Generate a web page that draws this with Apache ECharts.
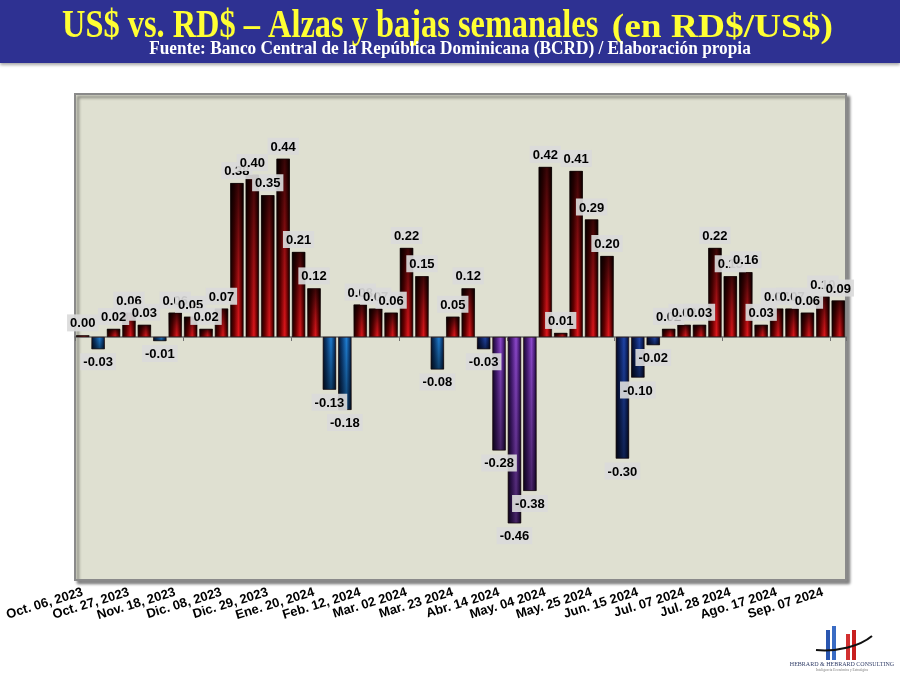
<!DOCTYPE html>
<html>
<head>
<meta charset="utf-8">
<title>US$ vs. RD$ – Alzas y bajas semanales</title>
<script src="https://cdn.jsdelivr.net/npm/echarts@6/dist/echarts.min.js"></script>
<style>
  html, body { margin: 0; padding: 0; background: #ffffff; }
  #chart { width: 900px; height: 675px; }
</style>
</head>
<body>
<div id="chart"></div>
<script>
// semanas (viernes) y variación semanal en RD$/US$
var weeks = [
  'Oct. 06, 2023', 'Oct. 13, 2023', 'Oct. 20, 2023', 'Oct. 27, 2023', 'Nov. 03, 2023',
  'Nov. 10, 2023', 'Nov. 18, 2023', 'Nov. 24, 2023', 'Dic. 01, 2023', 'Dic. 08, 2023',
  'Dic. 15, 2023', 'Dic. 22, 2023', 'Dic. 29, 2023', 'Ene. 05, 2024', 'Ene. 12, 2024',
  'Ene. 20, 2024', 'Ene. 27, 2024', 'Feb. 03, 2024', 'Feb. 12, 2024', 'Feb. 17, 2024',
  'Feb. 24, 2024', 'Mar. 02 2024', 'Mar. 09 2024', 'Mar. 16 2024', 'Mar. 23 2024',
  'Mar. 30 2024', 'Abr. 06 2024', 'Abr. 14 2024', 'Abr. 20 2024', 'Abr. 27 2024',
  'May. 04 2024', 'May. 11 2024', 'May. 18 2024', 'May. 25 2024', 'Jun. 01 2024',
  'Jun. 08 2024', 'Jun. 15 2024', 'Jun. 22 2024', 'Jun. 29 2024', 'Jul. 07 2024',
  'Jul. 14 2024', 'Jul. 21 2024', 'Jul. 28 2024', 'Ago. 03 2024', 'Ago. 10 2024',
  'Ago. 17 2024', 'Ago. 24 2024', 'Ago. 31 2024', 'Sep. 07 2024', 'Sep. 14 2024'
];

var changes = [
  0.004, -0.03, 0.02, 0.06, 0.03, -0.01, 0.06, 0.05, 0.02, 0.07,
  0.38, 0.40, 0.35, 0.44, 0.21, 0.12, -0.13, -0.18, 0.08, 0.07,
  0.06, 0.22, 0.15, -0.08, 0.05, 0.12, -0.03, -0.28, -0.46, -0.38,
  0.42, 0.01, 0.41, 0.29, 0.20, -0.30, -0.10, -0.02, 0.02, 0.03,
  0.03, 0.22, 0.15, 0.16, 0.03, 0.07, 0.07, 0.06, 0.10, 0.09
];

var valueMin = -0.6;
var valueMax = 0.6;

var title = 'US$ vs. RD$ – Alzas y bajas semanales';
var titleUnit = '(en RD$/US$)';
var source = 'Fuente: Banco Central de la República Dominicana (BCRD) / Elaboración propia';

// colores de las barras (efecto cilindro)
function cylinder(edge, mid, light) {
  return new echarts.graphic.LinearGradient(0, 0, 1, 0, [
    { offset: 0, color: edge },
    { offset: 0.3, color: mid },
    { offset: 0.62, color: light },
    { offset: 0.85, color: mid },
    { offset: 1, color: edge }
  ]);
}

function tone(i, v) {
  if (v >= 0) return cylinder('#120000', '#6e0000', '#e3161c');
  if (i >= 27 && i <= 29) return cylinder('#14062a', '#4a1d7a', '#8d48cc');
  if (i === 26 || (i >= 35 && i <= 37)) return cylinder('#03081f', '#0d2160', '#1f44a8');
  return cylinder('#04132b', '#0c3f7a', '#1f7fd4');
}

function shade(v) {
  if (v >= 0) {
    return new echarts.graphic.LinearGradient(0, 0, 0, 1, [
      { offset: 0, color: 'rgba(0,0,0,0.75)' },
      { offset: 0.55, color: 'rgba(0,0,0,0.3)' },
      { offset: 1, color: 'rgba(0,0,0,0)' }
    ]);
  }
  return new echarts.graphic.LinearGradient(0, 0, 0, 1, [
    { offset: 0, color: 'rgba(0,0,0,0)' },
    { offset: 1, color: 'rgba(0,0,0,0.5)' }
  ]);
}

var baseData = changes.map(function(v, i) {
  return { value: v, itemStyle: { color: tone(i, v), borderColor: '#1a0000', borderWidth: 0.6 } };
});

var shadeData = changes.map(function(v) {
  return {
    value: v,
    itemStyle: { color: shade(v) },
    label: { position: v >= 0 ? 'top' : 'bottom' }
  };
});

var chart = echarts.init(document.getElementById('chart'));

chart.setOption({
  backgroundColor: '#ffffff',
  animation: false,
  textStyle: { fontFamily: 'Liberation Sans, Arial, sans-serif' },
  grid: {
    left: 75, right: 54, top: 94, bottom: 95,
    show: true,
    backgroundColor: '#dfe0d1',
    borderColor: '#8a8a8a',
    borderWidth: 2,
    shadowColor: 'rgba(0,0,0,0.45)',
    shadowBlur: 3,
    shadowOffsetX: 3,
    shadowOffsetY: 3
  },
  xAxis: [
    {
      type: 'category',
      data: weeks,
      axisLine: { show: false, onZero: false },
      axisTick: { show: false },
      axisLabel: {
        interval: 2,
        rotate: 17,
        margin: 12,
        fontSize: 13,
        fontWeight: 'bold',
        color: '#000000'
      }
    },
    {
      type: 'category',
      data: weeks,
      position: 'bottom',
      axisLine: { show: true, onZero: true, lineStyle: { color: '#6f6f6f', width: 1.5 } },
      axisTick: { show: true, length: 4, lineStyle: { color: '#6f6f6f' } },
      axisLabel: { show: false }
    }
  ],
  yAxis: {
    type: 'value',
    min: valueMin,
    max: valueMax,
    show: false,
    splitLine: { show: false }
  },
  series: [
    {
      type: 'bar',
      data: baseData,
      barCategoryGap: '14%',
      silent: true
    },
    {
      type: 'bar',
      data: shadeData,
      barCategoryGap: '14%',
      barGap: '-100%',
      silent: true,
      label: {
        show: true,
        distance: 4,
        fontSize: 13,
        fontWeight: 'bold',
        color: '#000000',
        backgroundColor: 'rgba(218,218,218,0.92)',
        padding: [3, 3, 1, 3],
        formatter: function(p) { return p.value.toFixed(2); }
      }
    }
  ],
  graphic: [
    { type: 'rect', shape: { x: 0, y: 0, width: 900, height: 63 }, style: { fill: '#2e3192', shadowColor: 'rgba(0,0,0,0.35)', shadowBlur: 3, shadowOffsetY: 2 } },
    {
      type: 'text', x: 62, y: 26, scaleX: 0.79,
      style: {
        text: title, x: 0, y: 0,
        align: 'left', verticalAlign: 'middle',
        fontFamily: 'Liberation Serif', fontWeight: 'bold', fontSize: 41, fill: '#ffff33'
      }
    },
    {
      type: 'text', x: 833, y: 28.5, scaleX: 1.1,
      style: {
        text: titleUnit, x: 0, y: 0,
        align: 'right', verticalAlign: 'middle',
        fontFamily: 'Liberation Serif', fontWeight: 'bold', fontSize: 34, fill: '#ffff33'
      }
    },
    {
      type: 'text', x: 450, y: 49, scaleX: 0.96,
      style: {
        text: source, x: 0, y: 0,
        align: 'center', verticalAlign: 'middle',
        fontFamily: 'Liberation Serif', fontWeight: 'bold', fontSize: 18, fill: '#ffffff'
      }
    },
    // logo Hebrard & Hebrard
    { type: 'rect', shape: { x: 826, y: 630, width: 4, height: 30 }, style: { fill: '#2a56b0' } },
    { type: 'rect', shape: { x: 832, y: 626, width: 4, height: 34 }, style: { fill: '#3a6cc4' } },
    { type: 'rect', shape: { x: 846, y: 634, width: 4, height: 26 }, style: { fill: '#d23030' } },
    { type: 'rect', shape: { x: 852, y: 630, width: 4, height: 30 }, style: { fill: '#c82020' } },
    {
      type: 'bezierCurve',
      shape: { x1: 816, y1: 650, x2: 872, y2: 636, cpx1: 838, cpy1: 652, cpx2: 860, cpy2: 646 },
      style: { stroke: '#111111', lineWidth: 2, fill: null }
    },
    {
      type: 'text', x: 842, y: 664,
      style: { text: 'HEBRARD & HEBRARD CONSULTING', x: 0, y: 0, align: 'center', verticalAlign: 'middle', fontFamily: 'Liberation Serif', fontSize: 6, fill: '#34406a' }
    },
    {
      type: 'text', x: 842, y: 670,
      style: { text: 'Inteligencia Económica y Estratégica', x: 0, y: 0, align: 'center', verticalAlign: 'middle', fontFamily: 'Liberation Serif', fontSize: 3.5, fill: '#7a7a7a' }
    }
  ]
});
</script>
</body>
</html>
